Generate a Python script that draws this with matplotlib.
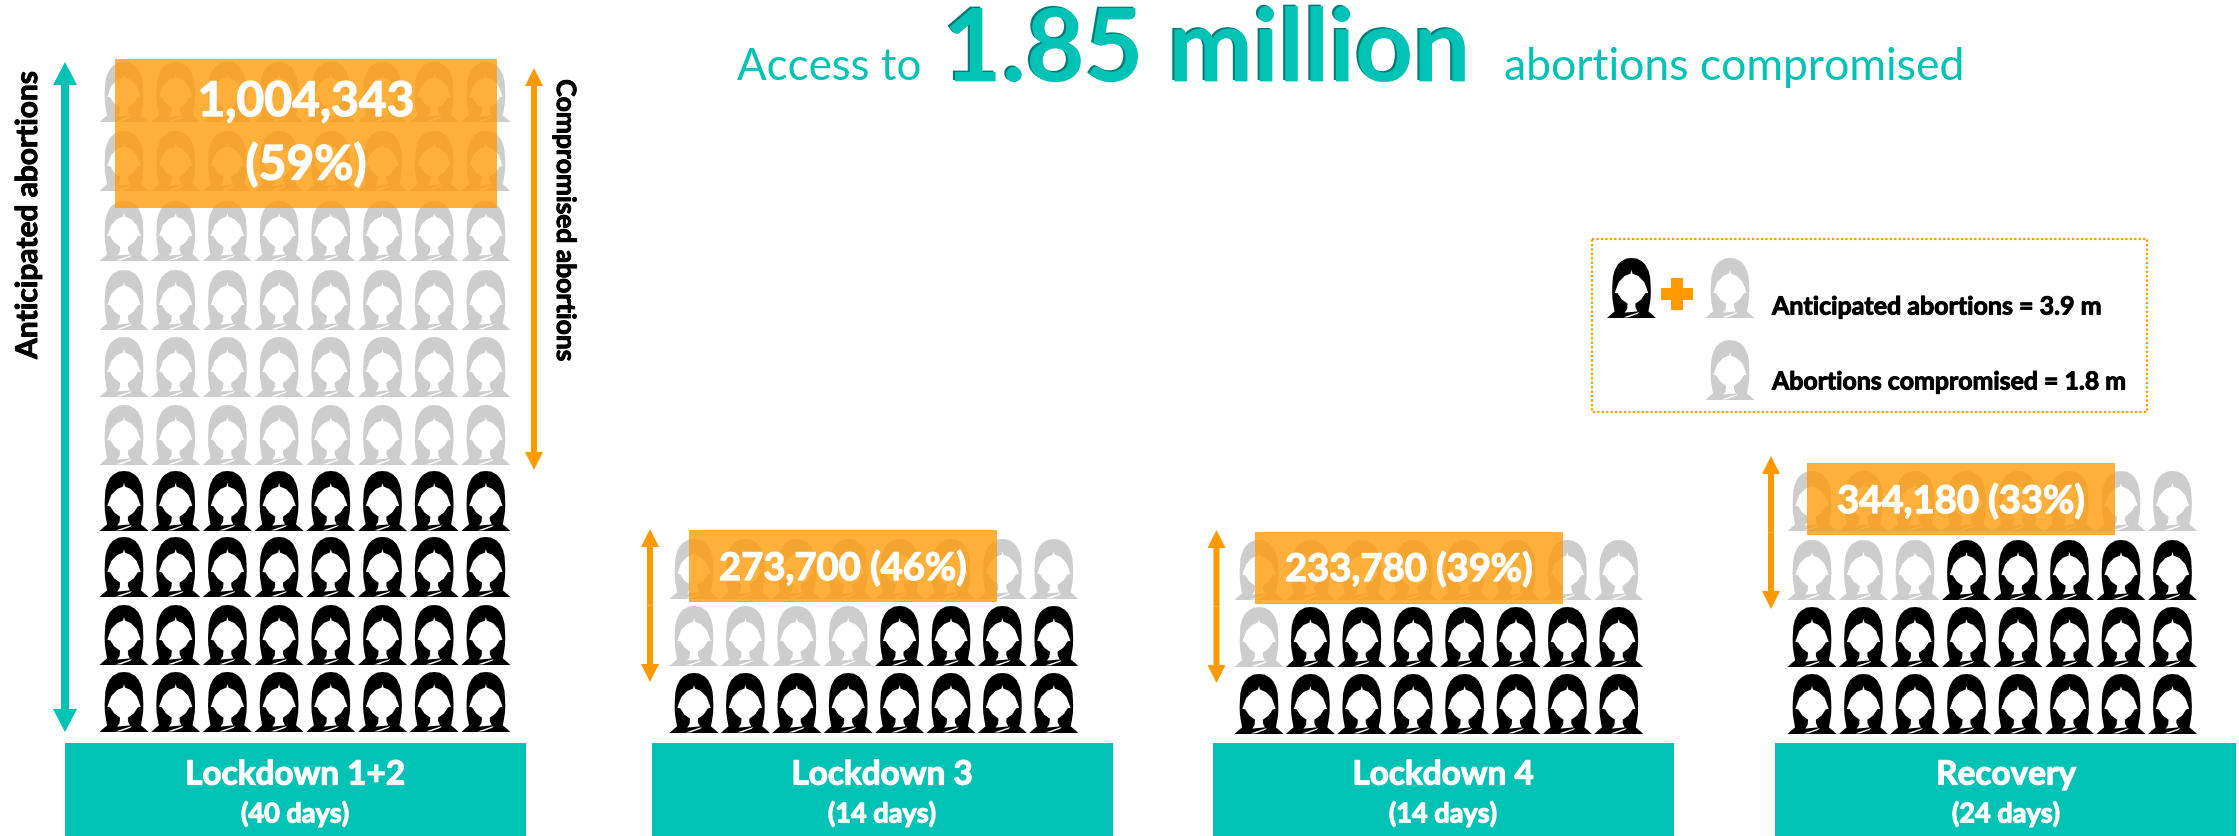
import matplotlib
matplotlib.use('Agg')
import matplotlib.pyplot as plt
import matplotlib.patches as mpatches
import matplotlib.patheffects as pe
from matplotlib.path import Path
from matplotlib.transforms import Affine2D

plt.rcParams['font.family'] = ['Lato', 'DejaVu Sans']

# data
phases = ['Lockdown 1+2', 'Lockdown 3', 'Lockdown 4', 'Recovery']
days = [40, 14, 14, 24]
n_black = [32, 12, 15, 21]
n_gray = [48, 12, 9, 11]
compromised = [1004343, 273700, 233780, 344180]
percent = [59, 46, 39, 33]
legend_lines = ['Anticipated abortions = 3.9 m', 'Abortions compromised = 1.8 m']

TEAL = '#00C2B5'
DARK_TEAL = '#007C74'
ORANGE = '#FF9900'
GRAY = '#CDCDCD'

# layout, in pixels of the final picture
col_start = [124, 694, 1259, 1812]
col_step = [51.7, 51.4, 51.4, 51.5]
row_bottoms = [
    [122, 191, 261, 330, 397, 465, 531, 597, 665, 732],
    [599, 666, 733],
    [600, 667, 734],
    [531, 600, 667, 734],
]
rect_x = [(115, 497), (689, 997), (1255, 1563), (1807, 2115)]
rect_y = [(59, 208), (530, 602), (532, 604), (463, 535)]
rect_text_x = [306, 843, 1409, 1961]
rect_text_y = [569, 568, 569, 501]
arrow_x = [534, 650, 1216.5, 1771]
arrow_y = [(68, 470), (529, 682), (530, 683), (456, 609)]
band_x = [(65, 526), (652, 1113), (1213, 1674), (1775, 2236)]
band_text_x = [295, 882, 1443, 2006]

# the woman icon, x -0.5..0.5, y 0 (bottom)..1 (top)
hair_pts = [(-0.5, 0), (-0.42, 0.06), (-0.345, 0.11), (-0.37, 0.22), (-0.39, 0.33), (-0.395, 0.45),
            (-0.39, 0.55), (-0.38, 0.68), (-0.35, 0.78), (-0.29, 0.88), (-0.22, 0.94), (-0.11, 0.99),
            (0, 1), (0.11, 0.99), (0.22, 0.94), (0.29, 0.88), (0.35, 0.78), (0.38, 0.68),
            (0.39, 0.55), (0.395, 0.45), (0.39, 0.33), (0.37, 0.22), (0.345, 0.11), (0.42, 0.06),
            (0.5, 0), (-0.5, 0)]
face_pts = [(0, 0.80), (-0.02, 0.74), (-0.14, 0.70), (-0.26, 0.60), (-0.31, 0.49), (-0.34, 0.42),
            (-0.28, 0.41), (-0.2, 0.31), (-0.1, 0.25), (-0.08, 0.24), (-0.09, 0.15), (-0.14, 0.09),
            (0.12, 0.11), (0.08, 0.18), (0.08, 0.24), (0.1, 0.25), (0.2, 0.31), (0.28, 0.41),
            (0.34, 0.42), (0.31, 0.49), (0.26, 0.60), (0.14, 0.70), (0.02, 0.74), (0, 0.80)]
slash_pts = [(-0.17, 0.01), (0.16, 0.10), (0.13, 0.07), (-0.07, 0.01), (-0.17, 0.01)]
hair_path = Path(hair_pts, closed=True)
face_path = Path(face_pts, closed=True)
slash_path = Path(slash_pts, closed=True)


def draw_icon(ax, x, bottom, color, w=49, h=60):
    tr = Affine2D().scale(w, -h).translate(x, bottom) + ax.transData
    ax.add_patch(mpatches.PathPatch(hair_path, fc=color, ec='none', transform=tr, zorder=2))
    ax.add_patch(mpatches.PathPatch(face_path, fc='white', ec='none', transform=tr, zorder=3))
    ax.add_patch(mpatches.PathPatch(slash_path, fc='white', ec='none', transform=tr, zorder=3))


def double_arrow(ax, x, y0, y1, color, width, head_w, head_l):
    mid = (y0 + y1) / 2
    for end in (y0, y1):
        ax.arrow(x, mid, 0, end - mid, width=width, head_width=head_w, head_length=head_l,
                 length_includes_head=True, fc=color, ec='none', zorder=4)


fig = plt.figure(figsize=(22.39, 8.36), dpi=100)
ax = fig.add_axes([0, 0, 1, 1])
ax.set_xlim(0, 2239)
ax.set_ylim(836, 0)
ax.axis('off')

# makes the labels as heavy as in the original
thick = [pe.withStroke(linewidth=0.9, foreground='white')]
thick_dark = [pe.withStroke(linewidth=0.7, foreground='black')]

for p in range(len(phases)):
    colors = [GRAY] * n_gray[p] + ['black'] * n_black[p]
    for i, c in enumerate(colors):
        row = i // 8
        col = i % 8
        draw_icon(ax, col_start[p] + col * col_step[p], row_bottoms[p][row], c)

    # orange block with the compromised number
    x0, x1 = rect_x[p]
    y0, y1 = rect_y[p]
    ax.add_patch(mpatches.Rectangle((x0, y0), x1 - x0, y1 - y0, fc=ORANGE, ec='none', alpha=0.77, zorder=5))
    if p == 0:
        ax.text(rect_text_x[p], 102, f'{compromised[p]:,}', color='white', fontsize=34.5, fontweight='bold',
                ha='center', va='center', zorder=6, path_effects=thick)
        ax.text(rect_text_x[p], 165, f'({percent[p]}%)', color='white', fontsize=34.5, fontweight='bold',
                ha='center', va='center', zorder=6, path_effects=thick)
    else:
        ax.text(rect_text_x[p], rect_text_y[p], f'{compromised[p]:,} ({percent[p]}%)', color='white',
                fontsize=27.5, fontweight='bold', ha='center', va='center', zorder=6, path_effects=thick)

    double_arrow(ax, arrow_x[p], arrow_y[p][0], arrow_y[p][1], ORANGE, 6, 18, 18)

    # teal band at the bottom
    bx0, bx1 = band_x[p]
    ax.add_patch(mpatches.Rectangle((bx0, 743), bx1 - bx0, 93, fc=TEAL, ec='none', zorder=2))
    ax.text(band_text_x[p], 775, phases[p], color='white', fontsize=24, fontweight='bold', ha='center', va='center',
            path_effects=thick)
    ax.text(band_text_x[p], 814, f'({days[p]} days)', color='white', fontsize=19.5, fontweight='bold',
            ha='center', va='center', path_effects=thick)

# left hand arrow and side labels
double_arrow(ax, 65, 62, 732, TEAL, 8, 24, 23)
ax.text(28, 215, 'Anticipated abortions', rotation=90, fontsize=21.5, fontweight='bold', ha='center', va='center',
        path_effects=thick_dark)
ax.text(565, 220, 'Compromised abortions', rotation=270, fontsize=19, fontweight='bold', ha='center', va='center',
        path_effects=thick_dark)

# title
ax.text(737, 80, 'Access to', color=TEAL, fontsize=31.5, ha='left', va='baseline')
big = ax.text(941, 80, '1.85 million', color=TEAL, fontsize=73, fontweight='bold', ha='left', va='baseline')
big.set_path_effects([pe.PathPatchEffect(facecolor=DARK_TEAL, edgecolor='none'),
                      pe.PathPatchEffect(offset=(1.5, -1), facecolor=TEAL, edgecolor='none')])
ax.text(1504, 80, 'abortions compromised', color=TEAL, fontsize=32, ha='left', va='baseline')

# legend
ax.add_patch(mpatches.Rectangle((1592, 239), 555, 173, fc='none', ec=ORANGE, lw=1.6, ls=(0, (1, 1)), zorder=2))
draw_icon(ax, 1631.5, 318, 'black')
draw_icon(ax, 1730, 318, GRAY)
draw_icon(ax, 1730, 400, GRAY)
ax.add_patch(mpatches.Rectangle((1661, 288), 32, 12, fc=ORANGE, ec='none'))
ax.add_patch(mpatches.Rectangle((1671, 278), 12, 32, fc=ORANGE, ec='none'))
ax.text(1772, 307, legend_lines[0], fontsize=18, fontweight='bold', ha='left', va='center', path_effects=thick_dark)
ax.text(1772, 382, legend_lines[1], fontsize=17.9, fontweight='bold', ha='left', va='center', path_effects=thick_dark)

fig.savefig('out.png', dpi=100)
